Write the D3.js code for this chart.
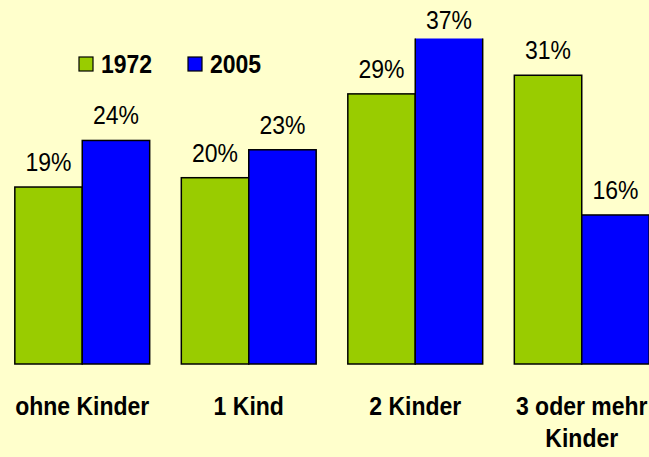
<!DOCTYPE html>
<html>
<head>
  <meta charset="UTF-8">
  <title>Kinderzahl 1972 / 2005</title>
  <script src="https://d3js.org/d3.v7.min.js"></script>
  <style>
    body { margin: 0; background: #FFFFCC; }
    svg { display: block; }
  </style>
</head>
<body>
  <svg width="649" height="457"></svg>

  <script>
    const categories = [["ohne Kinder"], ["1 Kind"], ["2 Kinder"], ["3 oder mehr", "Kinder"]];
    const series = ["1972", "2005"];
    const values1972 = [19, 20, 29, 31];
    const values2005 = [24, 23, 37, 16];
    const colors = ["#99CC00", "#0000FF"];
    const yMax = 35;

    const rows = categories.map((c, i) => ({
      key: c.join(" "),
      lines: c,
      vals: [values1972[i], values2005[i]]
    }));

    const svg = d3.select("svg");
    const font = "'Liberation Sans', Arial, sans-serif";
    const squeeze = "scale(0.92,1)"; // the original lettering is a bit narrow

    svg.append("rect")
      .attr("width", 649).attr("height", 457)
      .attr("fill", "#FFFFCC");

    const x0 = d3.scaleBand()
      .domain(rows.map(d => d.key))
      .range([-1, 665])
      .paddingInner(0.19)
      .paddingOuter(0.095);

    const x1 = d3.scaleBand()
      .domain(series)
      .range([0, x0.bandwidth()]);

    const y = d3.scaleLinear()
      .domain([0, yMax])
      .range([364, 38]);

    svg.append("defs").append("clipPath")
      .attr("id", "plot")
      .append("rect")
      .attr("x", -10).attr("y", y(yMax) + 0.5)
      .attr("width", 700).attr("height", 400);

    const groups = svg.append("g")
      .attr("clip-path", "url(#plot)")
      .selectAll("g")
      .data(rows)
      .join("g")
      .attr("transform", d => `translate(${x0(d.key)},0)`);

    groups.selectAll("rect")
      .data(d => d.vals.map((v, i) => ({ s: series[i], v, c: colors[i] })))
      .join("rect")
      .attr("x", d => x1(d.s))
      .attr("y", d => y(Math.min(d.v, yMax + 1)))
      .attr("width", x1.bandwidth())
      .attr("height", d => y(0) - y(Math.min(d.v, yMax + 1)))
      .attr("fill", d => d.c)
      .attr("stroke", "#000")
      .attr("stroke-width", 1.5);

    // value labels
    svg.append("g")
      .attr("font-family", font)
      .attr("font-size", 25)
      .attr("text-anchor", "middle")
      .attr("fill", "#000")
      .selectAll("g")
      .data(rows)
      .join("g")
      .attr("transform", d => `translate(${x0(d.key)},0)`)
      .selectAll("text")
      .data(d => d.vals.map((v, i) => ({ s: series[i], v })))
      .join("text")
      .attr("transform", d => `translate(${x1(d.s) + x1.bandwidth() / 2},${Math.max(y(Math.min(d.v, yMax)) - 16, 29)}) ${squeeze}`)
      .text(d => d.v + "%");

    // category labels
    svg.append("g")
      .attr("font-family", font)
      .attr("font-size", 25)
      .attr("font-weight", "bold")
      .attr("text-anchor", "middle")
      .selectAll("text")
      .data(rows)
      .join("text")
      .attr("transform", d => `translate(${x0(d.key) + x0.bandwidth() / 2},415) ${squeeze}`)
      .selectAll("tspan")
      .data(d => d.lines.map((l, i) => ({ l, i })))
      .join("tspan")
      .attr("x", 0)
      .attr("dy", d => d.i === 0 ? 0 : 32)
      .text(d => d.l);

    // legend
    const legendX = d3.scalePoint().domain(series).range([79, 188]);
    const legend = svg.append("g")
      .selectAll("g")
      .data(series)
      .join("g")
      .attr("transform", d => `translate(${legendX(d)},57)`);

    legend.append("rect")
      .attr("width", 14).attr("height", 14)
      .attr("fill", (d, i) => colors[i])
      .attr("stroke", "#000")
      .attr("stroke-width", 1.2);

    legend.append("text")
      .attr("transform", `translate(22,16) ${squeeze}`)
      .attr("font-family", font)
      .attr("font-size", 25)
      .attr("font-weight", "bold")
      .text(d => d);
  </script>
</body>
</html>
